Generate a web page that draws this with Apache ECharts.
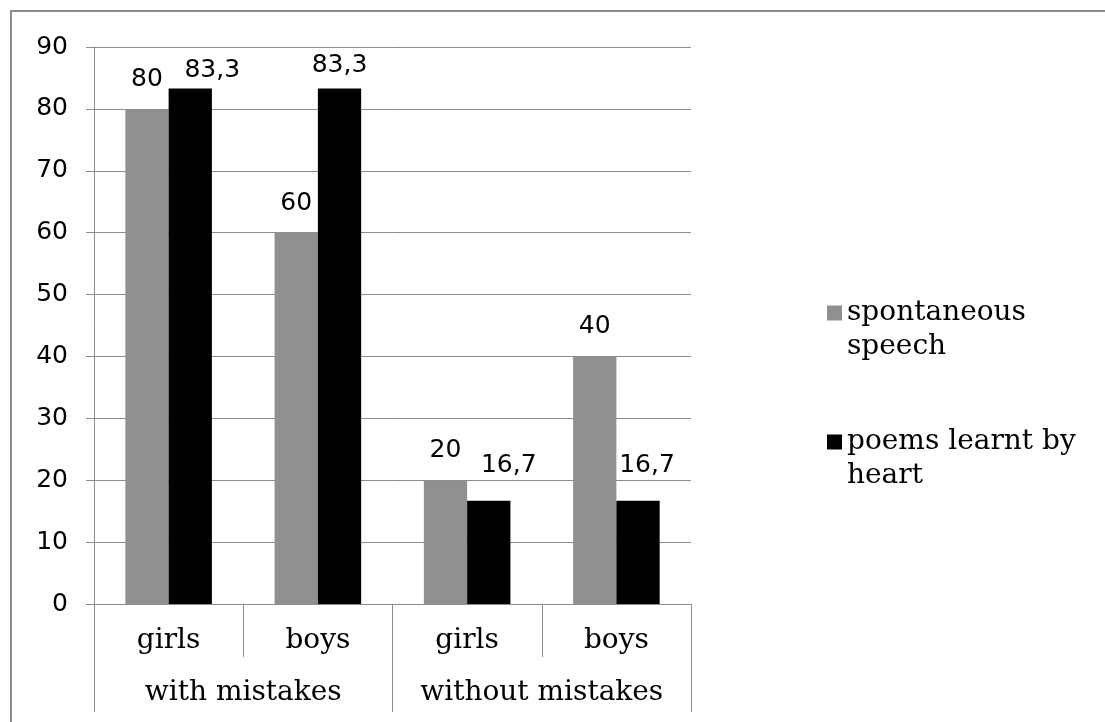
<!DOCTYPE html>
<html>
<head>
<meta charset="utf-8">
<script src="https://cdn.jsdelivr.net/npm/echarts@6/dist/echarts.min.js"></script>
<style>
  html, body { margin: 0; padding: 0; background: #fff; }
  #chart { width: 1105px; height: 722px; }
</style>
</head>
<body>
<div id="chart"></div>
<script>
// Share of pupils (%) by group and gender
const genders = ['girls', 'boys', 'girls', 'boys'];
const groups = ['with mistakes', 'without mistakes'];
const spontaneousSpeech = [80, 60, 20, 40];
const poemsByHeart = [83.3, 83.3, 16.7, 16.7];
const seriesNames = ['spontaneous\nspeech', 'poems learnt by\nheart'];

// label nudges [dx, dy] per bar, keeping labels clear of neighbours
const speechLabelNudge = [[0, 0], [0, 0], [0, 0], [0, 0]];
const poemsLabelNudge = [[22, 12], [0, 7], [20, -6], [9, -6]];

const GRAY_LINE = '#8c8c8c';
const SANS = '"DejaVu Sans", Verdana, sans-serif';
const SERIF = '"DejaVu Serif", serif';

const fmt = p => String(p.value).replace('.', ',');

function barData(values, nudges) {
  return values.map((v, i) => ({
    value: v,
    label: { offset: nudges[i] }
  }));
}

const chart = echarts.init(document.getElementById('chart'), null, { renderer: 'canvas' });

chart.setOption({
  animation: false,
  backgroundColor: '#fff',
  graphic: [{
    type: 'rect',
    shape: { x: 11, y: 11, width: 1200, height: 800 },
    style: { fill: 'none', stroke: GRAY_LINE, lineWidth: 2 },
    silent: true,
    z: -1
  }],
  grid: { left: 94, right: 414, top: 47, bottom: 118, containLabel: false },
  legend: {
    orient: 'vertical',
    left: 822,
    top: 257,
    itemWidth: 15,
    itemHeight: 15,
    itemGap: 27,
    icon: 'rect',
    data: seriesNames,
    // a blank first line keeps the swatch level with the name's first line
    formatter: name => '\n' + name,
    textStyle: {
      fontFamily: SERIF,
      fontSize: 28,
      lineHeight: 34,
      color: '#000'
    }
  },
  xAxis: [{
    type: 'category',
    position: 'bottom',
    data: genders,
    axisLine: { show: true, lineStyle: { color: GRAY_LINE, width: 1 } },
    axisTick: { show: true, interval: 0, length: 53, lineStyle: { color: GRAY_LINE } },
    axisLabel: { interval: 0, margin: 23, color: '#000', fontFamily: SERIF, fontSize: 28 },
    splitLine: { show: false }
  }, {
    type: 'category',
    position: 'bottom',
    offset: 0,
    data: groups,
    axisLine: { show: false },
    axisTick: { show: true, interval: 0, length: 108, lineStyle: { color: GRAY_LINE } },
    axisLabel: { interval: 0, margin: 75, color: '#000', fontFamily: SERIF, fontSize: 28 },
    splitLine: { show: false }
  }],
  yAxis: {
    type: 'value',
    min: 0,
    max: 90,
    interval: 10,
    axisLine: { show: true, lineStyle: { color: GRAY_LINE, width: 1 } },
    axisTick: { show: true, length: 8, lineStyle: { color: GRAY_LINE } },
    axisLabel: { margin: 26, color: '#000', fontFamily: SANS, fontSize: 25 },
    splitLine: { show: true, lineStyle: { color: GRAY_LINE, width: 1 } }
  },
  series: [{
    name: seriesNames[0],
    type: 'bar',
    xAxisIndex: 0,
    data: barData(spontaneousSpeech, speechLabelNudge),
    barGap: '0%',
    barCategoryGap: '42%',
    itemStyle: { color: '#909090' },
    label: {
      show: true, position: 'top', distance: 17, formatter: fmt,
      color: '#000', fontFamily: SANS, fontSize: 25
    }
  }, {
    name: seriesNames[1],
    type: 'bar',
    xAxisIndex: 0,
    data: barData(poemsByHeart, poemsLabelNudge),
    barGap: '0%',
    barCategoryGap: '42%',
    itemStyle: { color: '#000' },
    label: {
      show: true, position: 'top', distance: 17, formatter: fmt,
      color: '#000', fontFamily: SANS, fontSize: 25
    }
  }]
});
</script>
</body>
</html>
